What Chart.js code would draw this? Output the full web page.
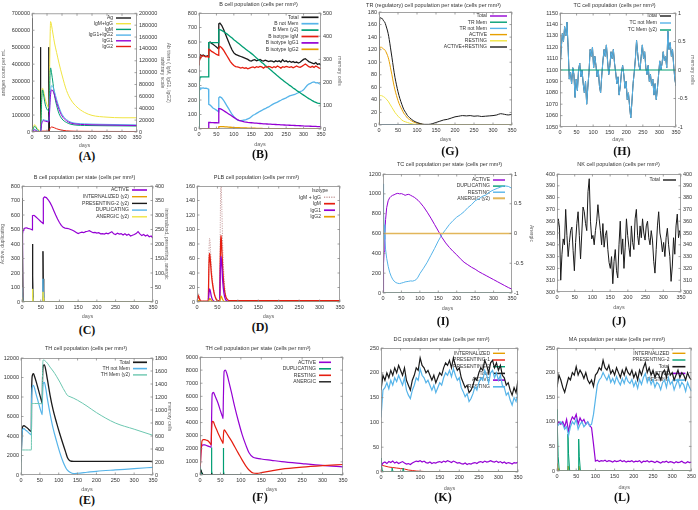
<!DOCTYPE html>
<html>
<head>
<meta charset="utf-8">
<script src="https://cdn.jsdelivr.net/npm/chart.js@4"></script>
<style>
  html, body { margin: 0; padding: 0; background: #fff; }
  #page { position: relative; width: 698px; height: 510px; overflow: hidden; background: #fff; }
  #page canvas { position: absolute; }
  .tag { position: absolute; width: 40px; text-align: center; font: bold 12px "Liberation Serif", "Times New Roman", serif; color: #111; }
</style>
</head>
<body>
<div id="page"></div>
<script>
// Simulated immune response panels (A)-(L), gnuplot look

const FONT = '"Liberation Sans", Arial, sans-serif';
const TXT = '#333';
const COL = {
  black: '#1a1a1a', purple: '#9400d3', green: '#009e73', sky: '#56b4e9',
  orange: '#e69f00', yellow: '#f0e442', red: '#e51e10', dotted: '#c9a0a0', khaki: '#e2b65a'
};

// ---- (A) antigen and antibodies ----
const aAgDays = [0, 0.8, 1.6, 27.6, 28, 28.8, 29.6, 55.6, 56, 56.8, 57.6, 350];
const aAg = [670000, 200000, 0, 0, 500000, 150000, 0, 0, 500000, 150000, 0, 0];
const aAbDays = [0, 3, 6, 9, 12, 16, 20, 24, 28, 30, 32, 35, 38, 42, 46, 50, 54, 56, 58, 60, 62, 65, 70, 75, 82, 90, 100, 115, 130, 150, 175, 200, 250, 300, 350];
const aIgMIgG = [0, 4000, 10000, 12500, 11000, 7000, 4500, 3000, 2500, 20000, 55000, 74000, 70000, 60000, 52000, 46000, 42000, 40000, 75000, 150000, 186000, 180000, 165000, 150000, 134000, 116000, 96000, 70000, 54000, 42000, 33000, 28000, 25000, 24000, 24000];
const aIgM = [0, 3000, 8000, 9500, 8500, 5000, 2500, 1000, 500, 15000, 50000, 71000, 65000, 52000, 43000, 38000, 36000, 34000, 55000, 95000, 108000, 100000, 82000, 62000, 45000, 31000, 22000, 16000, 13000, 11500, 11000, 10800, 10500, 10300, 10000];
const aIgG12 = [0, 1500, 4000, 4500, 3500, 2000, 1000, 700, 500, 5000, 15000, 20000, 21000, 20000, 19500, 19000, 18500, 18000, 30000, 55000, 70000, 78000, 76000, 68000, 55000, 42000, 30000, 21000, 16500, 14500, 13800, 13300, 12800, 12400, 12000];
const aIgG1 = [0, 1000, 3000, 3500, 2800, 1500, 800, 500, 400, 4000, 13000, 18000, 19000, 18500, 18000, 17500, 17000, 16500, 27000, 50000, 63000, 71000, 69000, 62000, 50000, 38000, 27000, 19000, 15000, 13200, 12500, 12100, 11700, 11300, 11000];
const aIgG2 = [0, 0, 0, 0, 0, 0, 0, 0, 0, 500, 1000, 1500, 1500, 1500, 1500, 1500, 1500, 1500, 3000, 6000, 7500, 8400, 8000, 7000, 5500, 4200, 3000, 2000, 1500, 1200, 1100, 1000, 900, 850, 800];

// ---- (B) B cell population ----
const bDays = [0, 1, 3, 5, 8, 12, 16, 20, 24, 27.5, 28, 32, 36, 40, 45, 50, 55, 56.5, 57, 60, 65, 70, 75, 80, 85, 90, 95].concat(range(100, 350, 5));
const bTotal = [445, 470, 495, 510, 505, 510, 505, 500, 505, 500, 595, 600, 590, 585, 575, 565, 555, 555, 725, 730, 715, 690, 660, 630, 600, 570, 545,
  525, 515, 510, 505, 500, 495, 490, 485, 480, 472, 468, 475, 478, 470, 475, 480, 472, 468, 475, 470, 465, 470, 468, 462, 470, 465, 470, 462, 478, 465,
  470, 462, 468, 460, 465, 458, 462, 455, 460, 470, 480, 485, 475, 465, 460, 455, 450, 458, 445, 450, 440];
const bNotMem = [300, 265, 275, 283, 282, 283, 280, 282, 278, 275, 170, 165, 155, 145, 138, 130, 122, 120, 215, 222, 215, 200, 180, 160, 140, 120, 100,
  85, 72, 62, 58, 58, 60, 62, 65, 70, 75, 85, 95, 100, 108, 115, 122, 128, 135, 140, 147, 152, 160, 168, 175, 180, 185, 192, 198, 205, 210,
  215, 222, 228, 232, 235, 238, 245, 250, 258, 262, 270, 285, 300, 310, 315, 322, 325, 318, 320, 312, 308];
const bMem = [0, 200, 224, 225, 225, 225, 225, 225, 225, 225, 372, 372, 372, 372, 372, 372, 372, 372, 428, 428, 425, 420, 415, 410, 404, 398, 392,
  385, 379, 373, 367, 361, 355, 349, 343, 337, 332, 326, 320, 313, 306, 300, 294, 287, 281, 274, 268, 262, 255, 249, 242, 236, 229, 223, 217, 211, 205,
  199, 194, 188, 183, 177, 172, 166, 161, 156, 151, 146, 141, 136, 131, 127, 122, 118, 115, 112, 110, 108];
const bIgM = [445, 470, 490, 505, 500, 505, 500, 497, 500, 495, 550, 545, 535, 530, 522, 515, 510, 508, 560, 570, 560, 545, 525, 505, 485, 465, 450,
  438, 430, 428, 425, 420, 425, 418, 422, 415, 420, 425, 428, 422, 430, 425, 432, 428, 420, 430, 425, 432, 428, 422, 430, 425, 435, 428, 420, 430, 425,
  432, 428, 425, 430, 422, 428, 435, 428, 425, 432, 440, 448, 440, 430, 425, 432, 425, 435, 428, 420, 418];
const bIgG1 = [0, 0, 0, 0, 0, 0, 0, 0, 0, 0, 45, 45, 44, 44, 43, 43, 42, 42, 140, 140, 135, 128, 120, 112, 104, 96, 88,
  80, 72, 65, 60, 56, 52, 49, 47, 45, 44, 43, 42, 41, 40, 39, 38, 37, 36, 35, 34.5, 34, 33, 32, 31.5, 31, 30, 29.5, 29, 28, 27.5,
  27, 26.5, 26, 25, 24.5, 24, 23.5, 23, 22.5, 22, 21, 20.5, 20, 19.5, 19, 18.5, 18, 17.5, 17, 16.5, 16];
const bIgG2 = [0, 0, 0, 0, 0, 0, 0, 0, 0, 0, 2, 2, 2, 2, 2, 2, 2, 2, 15, 17, 17, 16, 15, 14, 13, 12, 11,
  10, 10, 9, 9, 8, 8, 7, 7, 6, 6, 5, 5, 5, 4, 4, 4, 4, 3, 3, 3, 3, 3, 3, 3, 2, 2, 2, 2, 2, 2,
  2, 2, 2, 2, 2, 2, 2, 2, 2, 1, 1, 1, 1, 1, 1, 1, 1, 1, 1, 1, 1];

// ---- (C) B cell per state ----
const cDays = [0, 1, 2, 3, 5, 8, 12, 16, 20, 24, 27.5, 28, 32, 36, 40, 45, 50, 55, 56.5, 57, 60, 65, 70, 75, 80, 85, 90, 95].concat(range(100, 350, 5));
const cActive = [0, 300, 470, 495, 505, 510, 512, 508, 505, 502, 498, 595, 598, 590, 580, 568, 555, 545, 540, 715, 725, 720, 705, 685, 660, 630, 600, 572,
  548, 528, 515, 510, 508, 505, 500, 495, 488, 480, 472, 478, 482, 478, 485, 488, 492, 485, 478, 480, 475, 478, 470, 472, 468, 475, 470, 478, 485, 470,
  465, 475, 468, 472, 462, 470, 460, 468, 455, 460, 465, 472, 485, 470, 458, 465, 455, 462, 450, 455, 440];
const cSpikeDays = [0, 0.5, 1.5, 3, 27.5, 28, 29, 30, 55.5, 56, 57, 58, 350];
const cInternal = [0, 40, 20, 0, 0, 20, 10, 0, 0, 20, 10, 0, 0];
const cPresent2 = [0, 358, 250, 0, 0, 200, 90, 0, 0, 175, 80, 0, 0];
const cDuplic = [0, 100, 60, 0, 0, 90, 40, 0, 0, 160, 60, 0, 0];
const cAnergic = [0, 15, 8, 0, 0, 45, 20, 0, 0, 35, 15, 0, 0];

// ---- (D) plasma B cells ----
const dDays = [0, 2, 3, 5, 8, 12, 20, 27.5, 28, 29, 30, 31, 33, 35, 38, 42, 46, 50, 55.5, 56, 57, 58, 59, 61, 63, 66, 70, 75, 80, 350];
const dSum = [0, 8, 12, 9, 3, 1, 1, 1, 14, 60, 82, 88, 72, 50, 29, 13, 5, 2, 2, 30, 110, 155, 160, 125, 75, 35, 11, 4, 2, 2];
const dIgM = [0, 6, 9, 6, 2, 1, 1, 1, 10, 45, 62, 67, 55, 40, 25, 12, 5, 2, 2, 15, 60, 85, 92, 70, 45, 22, 8, 3, 2, 2];
const dIgG1 = [0, 1, 2, 2, 1, 0, 0, 0, 2, 10, 16, 18, 14, 8, 3, 1, 0, 0, 0, 10, 40, 58, 63, 48, 28, 12, 3, 1, 0, 0];
const dIgG2 = [0, 1, 2, 2, 1, 0, 0, 0, 0, 2, 3, 5, 4, 2, 1, 0, 0, 0, 0, 1, 4, 6, 8, 6, 3, 1, 0, 0, 0, 0];

// ---- (G) regulatory T cells ----
const gDays = [0, 1, 2, 4, 6, 8, 10, 12, 15, 18, 21, 24, 27, 30, 34, 38, 42, 46, 50, 55, 60, 65, 70, 75, 80, 90, 100, 110, 120, 130, 140, 150, 160, 170, 180, 190, 200, 210, 220, 230, 240, 250, 260, 270, 280, 290, 300, 310, 320, 330, 340, 350];
const gActRest = [0, 150, 168, 171, 170, 170, 168, 166, 164, 159, 153, 146, 136, 124, 108, 91, 76, 64, 53, 42, 33, 25, 20, 15, 12, 7, 4, 2, 1, 1,
  2, 4, 6, 8, 9, 11, 13, 14, 15, 14.5, 15, 14, 14.5, 13.5, 14, 14.5, 15, 16, 18, 17, 16, 17];
const gActive = [0, 100, 120, 124, 124, 123, 122, 121, 120, 117, 113, 108, 101, 92, 80, 67, 56, 47, 39, 31, 25, 19, 15, 11, 9, 5, 3, 1.5, 0.5, 0,
  0, 0, 0, 0, 0, 0, 0, 0, 0, 0, 0, 0, 0, 0, 0, 0, 0, 0, 0, 0, 0, 0];
const gResting = [0, 40, 46, 47, 47, 46, 46, 45, 44, 42, 40, 38, 35, 32, 28, 24, 20, 17, 14, 11, 8, 6, 5, 4, 3, 1.5, 0.8, 0.3, 0, 0,
  0, 0, 0, 0, 0, 0, 0, 0, 0, 0, 0, 0, 0, 0, 0, 0, 0, 0, 0, 0, 0, 0];
const gFlatDays = [0, 350];
const gFlat = [0, 0];

// ---- (H) cytotoxic T cells, 101 samples over 0-350 days ----
const hNotMem = [1100, 1118, 1132, 1125, 1138, 1130, 1142, 1120, 1092, 1098,
  1088, 1102, 1096, 1076, 1092, 1082, 1100, 1106, 1094, 1100,
  1088, 1080, 1090, 1070, 1085, 1098, 1118, 1112, 1120, 1102,
  1112, 1104, 1094, 1100, 1086, 1080, 1095, 1108, 1118, 1112,
  1122, 1108, 1096, 1104, 1116, 1110, 1118, 1106, 1098, 1088,
  1094, 1078, 1086, 1098, 1104, 1096, 1084, 1090, 1074, 1080,
  1068, 1058, 1072, 1088, 1098, 1110, 1126, 1114, 1104, 1100,
  1112, 1122, 1110, 1116, 1102, 1096, 1104, 1090, 1096, 1086,
  1092, 1078, 1088, 1074, 1084, 1096, 1108, 1100, 1106, 1116,
  1108, 1112, 1102, 1134, 1118, 1124, 1112, 1118, 1104, 1092, 1086];
const hMemDays = [0, 350];
const hMem = [0, 0];

// ---- (I) cytotoxic T cells per state ----
const iDays = [0, 1, 2, 3, 5, 7, 10, 14, 18, 22, 26, 30, 35, 40, 45, 50, 55, 60, 65, 70, 75, 80, 85, 90, 95, 100].concat(range(110, 350, 10));
const iActive = [0, 150, 300, 420, 600, 740, 860, 930, 960, 975, 985, 990, 1000, 1005, 1000, 1002, 995, 985, 992, 995, 985, 975, 965, 950, 935, 915,
  870, 815, 755, 690, 625, 560, 505, 460, 420, 385, 345, 310, 285, 260, 240, 215, 195, 175, 155, 135, 115, 95, 75, 55, 38];
const iResting = [1100, 950, 800, 690, 540, 440, 350, 270, 210, 170, 140, 120, 105, 98, 95, 100, 105, 112, 115, 118, 122, 120, 125, 135, 160, 195,
  250, 310, 380, 450, 525, 590, 640, 690, 730, 765, 790, 820, 860, 890, 930, 950, 975, 990, 1020, 1040, 1055, 1070, 1080, 1075, 1055];
const iFlatDays = [0, 350];
const iFlat = [0, 0];

// ---- (J) NK cells, 101 samples ----
const jTotal = [345, 362, 355, 310, 332, 345, 340, 370, 348, 330,
  342, 352, 355, 335, 318, 342, 358, 368, 348, 328,
  350, 372, 368, 358, 352, 385, 396, 360, 345, 348,
  340, 352, 360, 374, 362, 352, 340, 358, 338, 348,
  352, 336, 325, 320, 330, 307, 326, 336, 318, 312,
  340, 360, 332, 345, 320, 338, 362, 348, 338, 330,
  356, 342, 336, 362, 370, 348, 340, 356, 346, 362,
  350, 344, 356, 360, 346, 340, 352, 344, 326, 316,
  336, 356, 368, 350, 344, 334, 342, 330, 346, 354,
  340, 330, 309, 322, 346, 332, 356, 366, 346, 352, 345];

// ---- (E) helper T cells ----
const eDays = [0, 1, 3, 5, 8, 12, 16, 20, 24, 27.5, 28, 30, 33, 36, 40, 45, 50, 55, 56.5, 57, 59, 62, 66, 70, 77, 85, 94, 103, 112, 118, 123, 130, 140, 150, 175, 200, 250, 300, 350];
const eTotal = [1400, 2500, 4600, 5000, 5050, 4950, 4850, 4700, 4550, 4450, 8000, 10200, 10400, 10100, 9600, 8900, 8200, 7500, 7300, 9500,
  11200, 11300, 10700, 9800, 8200, 6700, 5400, 4200, 3100, 2400, 1800, 1450, 1400, 1400, 1400, 1400, 1400, 1400, 1400];
const eNotMem = [1300, 2400, 4400, 4700, 4750, 4600, 4500, 4350, 4200, 4100, 7500, 9000, 9200, 8900, 8300, 7600, 6900, 6300, 6200, 8200,
  9400, 9500, 8800, 7800, 6300, 4800, 3500, 2300, 1300, 800, 500, 280, 150, 180, 280, 380, 520, 650, 790];
const eMem = [0, 380, 385, 385, 385, 385, 385, 385, 385, 385, 1100, 1100, 1100, 1100, 1100, 1100, 1098, 1096, 1095, 1500,
  1770, 1765, 1745, 1720, 1660, 1600, 1520, 1430, 1330, 1270, 1225, 1205, 1180, 1150, 1060, 960, 800, 705, 610];

// ---- (F) helper T cells per state ----
const fDays = [0, 1, 2, 3, 5, 8, 12, 16, 20, 24, 27.5, 28, 29, 30, 33, 36, 40, 45, 50, 55, 56.5, 57, 58, 59, 62, 66, 70, 77, 85, 94, 103, 112, 120, 130, 140, 150, 175, 200, 250, 300, 350];
const fActive = [0, 800, 1600, 2000, 2250, 2300, 2300, 2250, 2200, 2150, 2100, 3500, 5500, 6200, 6300, 6100, 5800, 5400, 4900, 4450,
  4300, 5500, 7000, 7900, 8000, 7700, 7200, 6300, 5200, 4100, 3100, 2300, 1700, 1350, 1270, 1220, 1120, 1020, 870, 730, 620];
const fDuplic = [0, 350, 450, 300, 100, 0, 0, 0, 0, 0, 0, 2100, 300, 0, 0, 0, 0, 0, 0, 0,
  0, 2050, 300, 0, 0, 0, 0, 0, 0, 0, 0, 0, 0, 0, 0, 0, 0, 0, 0, 0, 0];
const fResting = [1000, 700, 1500, 2000, 2600, 2700, 2700, 2650, 2600, 2450, 2300, 3000, 3800, 4100, 4050, 3800, 3500, 3150, 2800, 2500,
  2400, 2800, 3300, 3450, 3350, 3150, 2950, 2600, 2150, 1650, 1150, 700, 380, 150, 120, 180, 320, 450, 600, 710, 800];
const fAnergic = [0, 300, 420, 350, 150, 50, 20, 0, 0, 0, 0, 120, 60, 20, 0, 0, 0, 0, 0, 0,
  0, 100, 50, 20, 0, 0, 0, 0, 0, 0, 0, 0, 0, 0, 0, 0, 0, 0, 0, 0, 0];

// ---- (K) dendritic cells, 71 samples (every 5 days) ----
const kTotal = [165, 195, 185, 200, 190, 205, 195, 210, 200, 215, 205, 195, 210, 185, 175, 165, 185, 195, 210, 205,
  230, 215, 210, 200, 205, 195, 185, 195, 180, 190, 200, 195, 210, 220, 215, 225, 210, 230, 215, 205,
  210, 190, 180, 170, 175, 160, 165, 175, 190, 185, 200, 210, 205, 225, 215, 200, 220, 225, 210, 220,
  205, 215, 195, 190, 175, 180, 165, 155, 170, 160, 185];
const kResting = [110, 165, 170, 180, 168, 185, 175, 190, 182, 195, 185, 175, 190, 165, 155, 148, 165, 175, 190, 185,
  208, 195, 190, 180, 185, 175, 165, 175, 160, 170, 180, 175, 190, 200, 195, 205, 192, 208, 195, 185,
  190, 170, 162, 152, 158, 142, 148, 158, 172, 165, 180, 190, 185, 205, 195, 180, 200, 205, 190, 200,
  185, 195, 175, 170, 155, 160, 145, 135, 150, 142, 160];
const kActive = [12, 18, 20, 17, 21, 19, 22, 18, 20, 17, 19, 21, 18, 16, 17, 15, 18, 20, 22, 21,
  23, 20, 22, 19, 18, 20, 17, 19, 18, 20, 21, 19, 22, 20, 23, 21, 19, 22, 20, 18,
  19, 17, 16, 18, 15, 17, 16, 18, 19, 17, 20, 21, 19, 22, 20, 21, 23, 21, 20, 22,
  19, 21, 18, 20, 17, 19, 18, 16, 19, 18, 20];
const kPres1Days = [0, 1, 5, 10, 20, 30, 40, 50, 60, 70, 80, 90, 100, 120, 350];
const kPres1 = [0, 15, 13, 12, 10, 9, 8, 7, 6, 4, 3, 2, 1.5, 0.5, 0];
const kPres2Days = [0, 1, 3, 6, 27.5, 28.5, 31, 55.5, 56.5, 59, 350];
const kPres2 = [28, 15, 5, 0, 0, 8, 0, 0, 8, 0, 0];
const kIntDays = [0, 2, 5, 350];
const kInternal = [5, 3, 0, 0];

// ---- (L) macrophages, 71 samples (every 5 days) ----
const lTotal = [170, 195, 185, 170, 160, 175, 190, 185, 200, 195, 212, 195, 205, 198, 188, 200, 185, 178, 185, 172,
  195, 200, 210, 205, 225, 210, 205, 215, 198, 205, 195, 210, 200, 190, 205, 195, 210, 200, 195, 205,
  190, 200, 185, 205, 195, 210, 220, 200, 210, 195, 205, 190, 200, 195, 185, 200, 205, 190, 210, 195,
  200, 185, 195, 205, 190, 200, 195, 185, 200, 190, 185];
const lResting = [90, 95, 100, 95, 85, 90, 72, 90, 100, 95, 105, 85, 95, 100, 90, 95, 100, 92, 95, 115,
  145, 175, 185, 190, 200, 192, 185, 195, 180, 188, 178, 192, 182, 175, 188, 178, 192, 182, 178, 186,
  172, 182, 168, 186, 176, 190, 198, 180, 190, 176, 186, 170, 180, 176, 165, 180, 185, 170, 190, 176,
  182, 165, 176, 186, 170, 180, 175, 162, 180, 170, 162];
const lActive = [95, 100, 95, 100, 90, 105, 80, 100, 110, 105, 115, 95, 108, 100, 105, 95, 100, 92, 88, 55,
  20, 22, 19, 21, 20, 22, 19, 21, 20, 18, 21, 19, 20, 22, 19, 21, 18, 20, 19, 21,
  18, 20, 19, 21, 17, 20, 19, 21, 18, 20, 19, 17, 20, 18, 16, 19, 18, 20, 17, 19,
  18, 16, 19, 17, 18, 20, 17, 16, 19, 17, 18];
const lPres2Days = [0, 1, 3, 6, 27.5, 28.5, 30, 33, 55.5, 56.5, 58, 61, 350];
const lPres2 = [125, 90, 30, 0, 0, 75, 35, 0, 0, 65, 30, 0, 0];
const lIntDays = [0, 1, 3, 5, 28, 29, 32, 56, 57, 60, 350];
const lInternal = [0, 15, 5, 0, 0, 10, 0, 0, 10, 0, 0];

// ---------- helpers ----------
function range(a, b, step) {
  const out = [];
  for (let v = a; v <= b + 1e-9; v += step) out.push(v);
  return out;
}
function pairs(days, vals) { return vals.map((v, i) => ({ x: days[i], y: v })); }
function spread(vals) {
  const step = 350 / (vals.length - 1);
  return vals.map((v, i) => ({ x: i * step, y: v }));
}
function ds(label, color, data, more) {
  return Object.assign({
    label, data, borderColor: color, backgroundColor: color, borderWidth: 1,
    pointRadius: 0, fill: false, tension: 0, yAxisID: 'y'
  }, more || {});
}
const SMOOTH = { cubicInterpolationMode: 'monotone' };
const Y2 = { yAxisID: 'y2' };
const Y2S = { yAxisID: 'y2', cubicInterpolationMode: 'monotone' };

function tickOpts(step) {
  return { stepSize: step, font: { family: FONT, size: 5.5 }, color: TXT, padding: 2,
           maxRotation: 0, autoSkip: false, callback: v => String(v) };
}
function axisTitle(text, size) {
  return { display: !!text, text: text || '', font: { family: FONT, size: size }, color: '#666', padding: 0 };
}
const NOGRID = { display: false, drawTicks: false };

// gnuplot-style border with inward ticks
const gpFrame = {
  id: 'gpFrame',
  afterDatasetsDraw(chart) {
    const { ctx, chartArea: a, scales } = chart;
    ctx.save();
    ctx.strokeStyle = '#8c8c8c';
    ctx.lineWidth = 0.8;
    ctx.beginPath();
    scales.x.ticks.forEach(t => {
      const px = scales.x.getPixelForValue(t.value);
      ctx.moveTo(px, a.bottom); ctx.lineTo(px, a.bottom - 2.5);
      ctx.moveTo(px, a.top); ctx.lineTo(px, a.top + 2.5);
    });
    const yl = scales.y, yr = scales.y2 || scales.y;
    yl.ticks.forEach(t => {
      const py = yl.getPixelForValue(t.value);
      ctx.moveTo(a.left, py); ctx.lineTo(a.left + 2.5, py);
    });
    yr.ticks.forEach(t => {
      const py = yr.getPixelForValue(t.value);
      ctx.moveTo(a.right, py); ctx.lineTo(a.right - 2.5, py);
    });
    ctx.stroke();
    ctx.strokeRect(a.left + 0.5, a.top + 0.5, a.right - a.left - 1, a.bottom - a.top - 1);
    ctx.restore();
  }
};

// key in the top right corner, drawn under the curves like gnuplot does
const gpKey = {
  id: 'gpKey',
  beforeDatasetsDraw(chart, args, o) {
    const { ctx, chartArea: a } = chart;
    const x1 = a.right - o.right;
    const x0 = x1 - o.len;
    let y = a.top + o.top;
    ctx.save();
    ctx.font = '5px ' + FONT;
    ctx.fillStyle = TXT;
    ctx.textBaseline = 'middle';
    if (o.header) {
      ctx.textAlign = 'center';
      ctx.fillText(o.header, x0 - 4, y);
      y += o.dy;
    }
    ctx.textAlign = 'right';
    chart.data.datasets.forEach(d => {
      ctx.fillText(d.label, x0 - 3, y);
      ctx.strokeStyle = d.borderColor;
      ctx.lineWidth = d.borderWidth + 0.4;
      ctx.setLineDash(d.borderDash || []);
      ctx.beginPath();
      ctx.moveTo(x0, y);
      ctx.lineTo(x1, y);
      ctx.stroke();
      ctx.setLineDash([]);
      y += o.dy;
    });
    ctx.restore();
  }
};

const page = document.getElementById('page');

function makePanel(g, cfg) {
  const top = g.titleY == null ? g.T - 4 : Math.round(g.titleY - 4.3);
  const left = g.L - g.leftW;
  const width = g.R + g.rightW - left;
  const height = g.B + g.bottomH - top;

  const cv = document.createElement('canvas');
  cv.width = width;
  cv.height = height;
  cv.style.left = left + 'px';
  cv.style.top = top + 'px';
  page.appendChild(cv);

  const tag = document.createElement('div');
  tag.className = 'tag';
  tag.textContent = g.label;
  tag.style.left = (g.tag[0] - 20) + 'px';
  tag.style.top = (g.tag[1] - 8) + 'px';
  page.appendChild(tag);

  const scales = {
    x: { type: 'linear', min: 0, max: 350, ticks: tickOpts(50), grid: NOGRID, border: { display: false },
         title: axisTitle('days', 5.5), afterFit: s => { s.height = g.bottomH; } },
    y: { type: 'linear', min: cfg.y.min, max: cfg.y.max, ticks: tickOpts(cfg.y.step), grid: NOGRID,
         border: { display: false }, title: axisTitle(cfg.y.title, 5), afterFit: s => { s.width = g.leftW; } }
  };
  if (cfg.y2) {
    scales.y2 = { type: 'linear', position: 'right', min: cfg.y2.min, max: cfg.y2.max, ticks: tickOpts(cfg.y2.step),
                  grid: NOGRID, border: { display: false }, title: axisTitle(cfg.y2.title, 5),
                  afterFit: s => { s.width = g.rightW; } };
  }

  // later curves on top, as gnuplot draws them
  const n = cfg.datasets.length;
  cfg.datasets.forEach((d, i) => { d.order = n - i; });

  new Chart(cv, {
    type: 'line',
    data: { datasets: cfg.datasets },
    options: {
      responsive: false,
      animation: false,
      events: [],
      layout: { padding: { top: g.titleY == null ? 4 : 1, left: 0, bottom: 0, right: cfg.y2 ? 0 : g.rightW } },
      plugins: {
        legend: { display: false },
        tooltip: { enabled: false },
        title: { display: !!cfg.title, text: cfg.title || '', color: TXT,
                 font: { family: FONT, size: 5.5, weight: 'normal' },
                 padding: { top: 0, bottom: g.T - top - 7.6 } },
        gpKey: cfg.key
      },
      scales
    },
    plugins: [gpKey, gpFrame]
  });
}

// ---------- layout of the 12 panels (page pixels) ----------
const GEO = {
  A: { label: '(A)', L: 32, T: 12, R: 137, B: 132, leftW: 31, rightW: 34, bottomH: 17, titleY: null, tag: [87, 157] },
  B: { label: '(B)', L: 199, T: 13, R: 321, B: 129, leftW: 24, rightW: 21, bottomH: 19, titleY: 4, tag: [260, 155] },
  G: { label: '(G)', L: 379, T: 12, R: 512, B: 125, leftW: 24, rightW: 8, bottomH: 18, titleY: 5, tag: [450, 152] },
  H: { label: '(H)', L: 560, T: 13, R: 676, B: 127, leftW: 26, rightW: 19, bottomH: 16, titleY: 5, tag: [622, 152] },
  C: { label: '(C)', L: 22, T: 186, R: 153, B: 302, leftW: 22, rightW: 16, bottomH: 18, titleY: 177, tag: [87, 331] },
  D: { label: '(D)', L: 197, T: 186, R: 340, B: 302, leftW: 24, rightW: 8, bottomH: 18, titleY: 177, tag: [260, 328] },
  I: { label: '(I)', L: 383, T: 174, R: 512, B: 293, leftW: 18, rightW: 22, bottomH: 19, titleY: 164, tag: [443, 322] },
  J: { label: '(J)', L: 557, T: 174, R: 681, B: 292, leftW: 16, rightW: 15, bottomH: 19, titleY: 164, tag: [619, 322] },
  E: { label: '(E)', L: 21, T: 358, R: 153, B: 475, leftW: 21, rightW: 19, bottomH: 18, titleY: 348, tag: [87, 501] },
  F: { label: '(F)', L: 200, T: 357, R: 343, B: 475, leftW: 27, rightW: 8, bottomH: 18, titleY: 348, tag: [260, 498] },
  K: { label: '(K)', L: 381, T: 348, R: 518, B: 472, leftW: 16, rightW: 8, bottomH: 20, titleY: 339, tag: [443, 498] },
  L: { label: '(L)', L: 557, T: 348, R: 693, B: 471, leftW: 16, rightW: 5, bottomH: 20, titleY: 339, tag: [622, 498] }
};

makePanel(GEO.A, {
  y: { min: 0, max: 700000, step: 100000, title: 'antigen count per mL' },
  y2: { min: 0, max: 200000, step: 20000, title: ['Ab titers ( IgM, IgG1, IgG2)', 'arbitrary scale'] },
  key: { top: 4.7, dy: 5.7, len: 15, right: 6 },
  datasets: [
    ds('Ag', COL.black, pairs(aAgDays, aAg)),
    ds('IgM+IgG', COL.yellow, pairs(aAbDays, aIgMIgG), Y2S),
    ds('IgM', COL.green, pairs(aAbDays, aIgM), Y2S),
    ds('IgG1+IgG2', COL.sky, pairs(aAbDays, aIgG12), Y2S),
    ds('IgG1', COL.purple, pairs(aAbDays, aIgG1), Y2S),
    ds('IgG2', COL.red, pairs(aAbDays, aIgG2), Y2S)
  ]
});

makePanel(GEO.B, {
  title: 'B cell population (cells per mm³)',
  y: { min: 0, max: 800, step: 100 },
  y2: { min: 0, max: 500, step: 100, title: 'memory cells' },
  key: { top: 4.3, dy: 6.4, len: 17, right: 2.5 },
  datasets: [
    ds('Total', COL.black, pairs(bDays, bTotal), { borderWidth: 1.3 }),
    ds('B not Mem', COL.sky, pairs(bDays, bNotMem), { borderWidth: 1.3 }),
    ds('B Mem (y2)', COL.green, pairs(bDays, bMem), { yAxisID: 'y2', borderWidth: 1.3 }),
    ds('B isotype IgM', COL.red, pairs(bDays, bIgM), { borderWidth: 1.3 }),
    ds('B isotype IgG1', COL.purple, pairs(bDays, bIgG1), { borderWidth: 1.3 }),
    ds('B isotype IgG2', COL.orange, pairs(bDays, bIgG2), { borderWidth: 1.3 })
  ]
});

makePanel(GEO.G, {
  title: 'TR (regulatory) cell population per state (cells per mm³)',
  y: { min: 0, max: 180, step: 20 },
  key: { top: 4, dy: 6.2, len: 17, right: 5 },
  datasets: [
    ds('Total', COL.purple, pairs(gFlatDays, gFlat)),
    ds('TR Mem', COL.green, pairs(gFlatDays, gFlat)),
    ds('TR not Mem', COL.sky, pairs(gFlatDays, gFlat)),
    ds('ACTIVE', COL.orange, pairs(gDays, gActive), SMOOTH),
    ds('RESTING', COL.yellow, pairs(gDays, gResting), SMOOTH),
    ds('ACTIVE+RESTING', COL.black, pairs(gDays, gActRest), SMOOTH)
  ]
});

makePanel(GEO.H, {
  title: 'TC cell population (cells per mm³)',
  y: { min: 1050, max: 1150, step: 10 },
  y2: { min: -1, max: 1, step: 0.5, title: 'memory cells' },
  key: { top: 3, dy: 7, len: 11, right: 5 },
  datasets: [
    ds('Total', COL.black, spread(hNotMem)),
    ds('TC not Mem', COL.sky, spread(hNotMem)),
    ds('TC Mem (y2)', COL.green, pairs(hMemDays, hMem), Y2)
  ]
});

makePanel(GEO.C, {
  title: 'B cell population per state (cells per mm³)',
  y: { min: 0, max: 800, step: 100, title: 'Active, duplicating' },
  y2: { min: 0, max: 400, step: 50, title: 'internalized, presenting, anergic' },
  key: { top: 4, dy: 6.7, len: 15, right: 6 },
  datasets: [
    ds('ACTIVE', COL.purple, pairs(cDays, cActive), { borderWidth: 1.2 }),
    ds('INTERNALIZED (y2)', COL.orange, pairs(cSpikeDays, cInternal), Y2),
    ds('PRESENTING-2 (y2)', COL.black, pairs(cSpikeDays, cPresent2), Y2),
    ds('DUPLICATING', COL.sky, pairs(cSpikeDays, cDuplic)),
    ds('ANERGIC (y2)', COL.yellow, pairs(cSpikeDays, cAnergic), Y2)
  ]
});

makePanel(GEO.D, {
  title: 'PLB cell population (cells per mm³)',
  y: { min: 0, max: 160, step: 20 },
  key: { header: 'Isotype', top: 4.7, dy: 6.5, len: 11, right: 5 },
  datasets: [
    ds('IgM + IgG', COL.dotted, pairs(dDays, dSum), { borderDash: [1.2, 1.2], cubicInterpolationMode: 'monotone' }),
    ds('IgM', COL.red, pairs(dDays, dIgM), { borderWidth: 1.3, cubicInterpolationMode: 'monotone' }),
    ds('IgG1', COL.purple, pairs(dDays, dIgG1), { borderWidth: 1.3, cubicInterpolationMode: 'monotone' }),
    ds('IgG2', COL.orange, pairs(dDays, dIgG2), { borderWidth: 1.3, cubicInterpolationMode: 'monotone' })
  ]
});

makePanel(GEO.I, {
  title: 'TC cell population per state (cells per mm³)',
  y: { min: 0, max: 1200, step: 200 },
  y2: { min: -1, max: 1, step: 0.5, title: 'Anergic' },
  key: { top: 6, dy: 6.1, len: 12, right: 7 },
  datasets: [
    ds('ACTIVE', COL.purple, pairs(iDays, iActive)),
    ds('DUPLICATING', COL.green, pairs(iFlatDays, iFlat)),
    ds('RESTING', COL.sky, pairs(iDays, iResting)),
    ds('ANERGIC (y2)', COL.khaki, pairs(iFlatDays, iFlat), { yAxisID: 'y2', borderWidth: 1.6 })
  ]
});

makePanel(GEO.J, {
  title: 'NK cell population (cells per mm³)',
  y: { min: 300, max: 400, step: 10 },
  y2: { min: 300, max: 400, step: 10 },
  key: { top: 6, dy: 6, len: 13, right: 5 },
  datasets: [
    ds('Total', COL.black, spread(jTotal))
  ]
});

makePanel(GEO.E, {
  title: 'TH cell population (cells per mm³)',
  y: { min: 0, max: 12000, step: 2000 },
  y2: { min: 0, max: 1800, step: 200, title: 'memory cells' },
  key: { top: 4.3, dy: 6.3, len: 14, right: 6 },
  datasets: [
    ds('Total', COL.black, pairs(eDays, eTotal), { borderWidth: 1.3, cubicInterpolationMode: 'monotone' }),
    ds('TH not Mem', COL.sky, pairs(eDays, eNotMem), { borderWidth: 1.2, cubicInterpolationMode: 'monotone' }),
    ds('TH Mem (y2)', '#6cc7b0', pairs(eDays, eMem), { yAxisID: 'y2', cubicInterpolationMode: 'monotone' })
  ]
});

makePanel(GEO.F, {
  title: 'TH cell population per state (cells per mm³)',
  y: { min: 0, max: 9000, step: 1000 },
  key: { top: 5.3, dy: 6.5, len: 12, right: 12 },
  datasets: [
    ds('ACTIVE', COL.purple, pairs(fDays, fActive), { borderWidth: 1.2, cubicInterpolationMode: 'monotone' }),
    ds('DUPLICATING', COL.green, pairs(fDays, fDuplic), { borderWidth: 1.2 }),
    ds('RESTING', COL.red, pairs(fDays, fResting), { borderWidth: 1.2, cubicInterpolationMode: 'monotone' }),
    ds('ANERGIC', COL.black, pairs(fDays, fAnergic))
  ]
});

makePanel(GEO.K, {
  title: 'DC population per state (cells per mm³)',
  y: { min: 0, max: 250, step: 50 },
  key: { top: 5.3, dy: 6.7, len: 12, right: 13 },
  datasets: [
    ds('INTERNALIZED', COL.orange, pairs(kIntDays, kInternal)),
    ds('PRESENTING-1', COL.red, pairs(kPres1Days, kPres1)),
    ds('PRESENTING-2', COL.green, pairs(kPres2Days, kPres2)),
    ds('Total', COL.black, spread(kTotal), { borderWidth: 1.2 }),
    ds('ACTIVE', COL.purple, spread(kActive), { borderWidth: 1.2 }),
    ds('RESTING', COL.sky, spread(kResting), { borderWidth: 1.2 })
  ]
});

makePanel(GEO.L, {
  title: 'MA population per state (cells per mm³)',
  y: { min: 0, max: 250, step: 50 },
  key: { top: 5.3, dy: 6.7, len: 13, right: 6 },
  datasets: [
    ds('INTERNALIZED', COL.orange, pairs(lIntDays, lInternal)),
    ds('PRESENTING-2', COL.green, pairs(lPres2Days, lPres2)),
    ds('Total', COL.black, spread(lTotal), { borderWidth: 1.2 }),
    ds('ACTIVE', COL.purple, spread(lActive), { borderWidth: 1.2 }),
    ds('RESTING', COL.sky, spread(lResting), { borderWidth: 1.2 })
  ]
});
</script>
</body>
</html>
